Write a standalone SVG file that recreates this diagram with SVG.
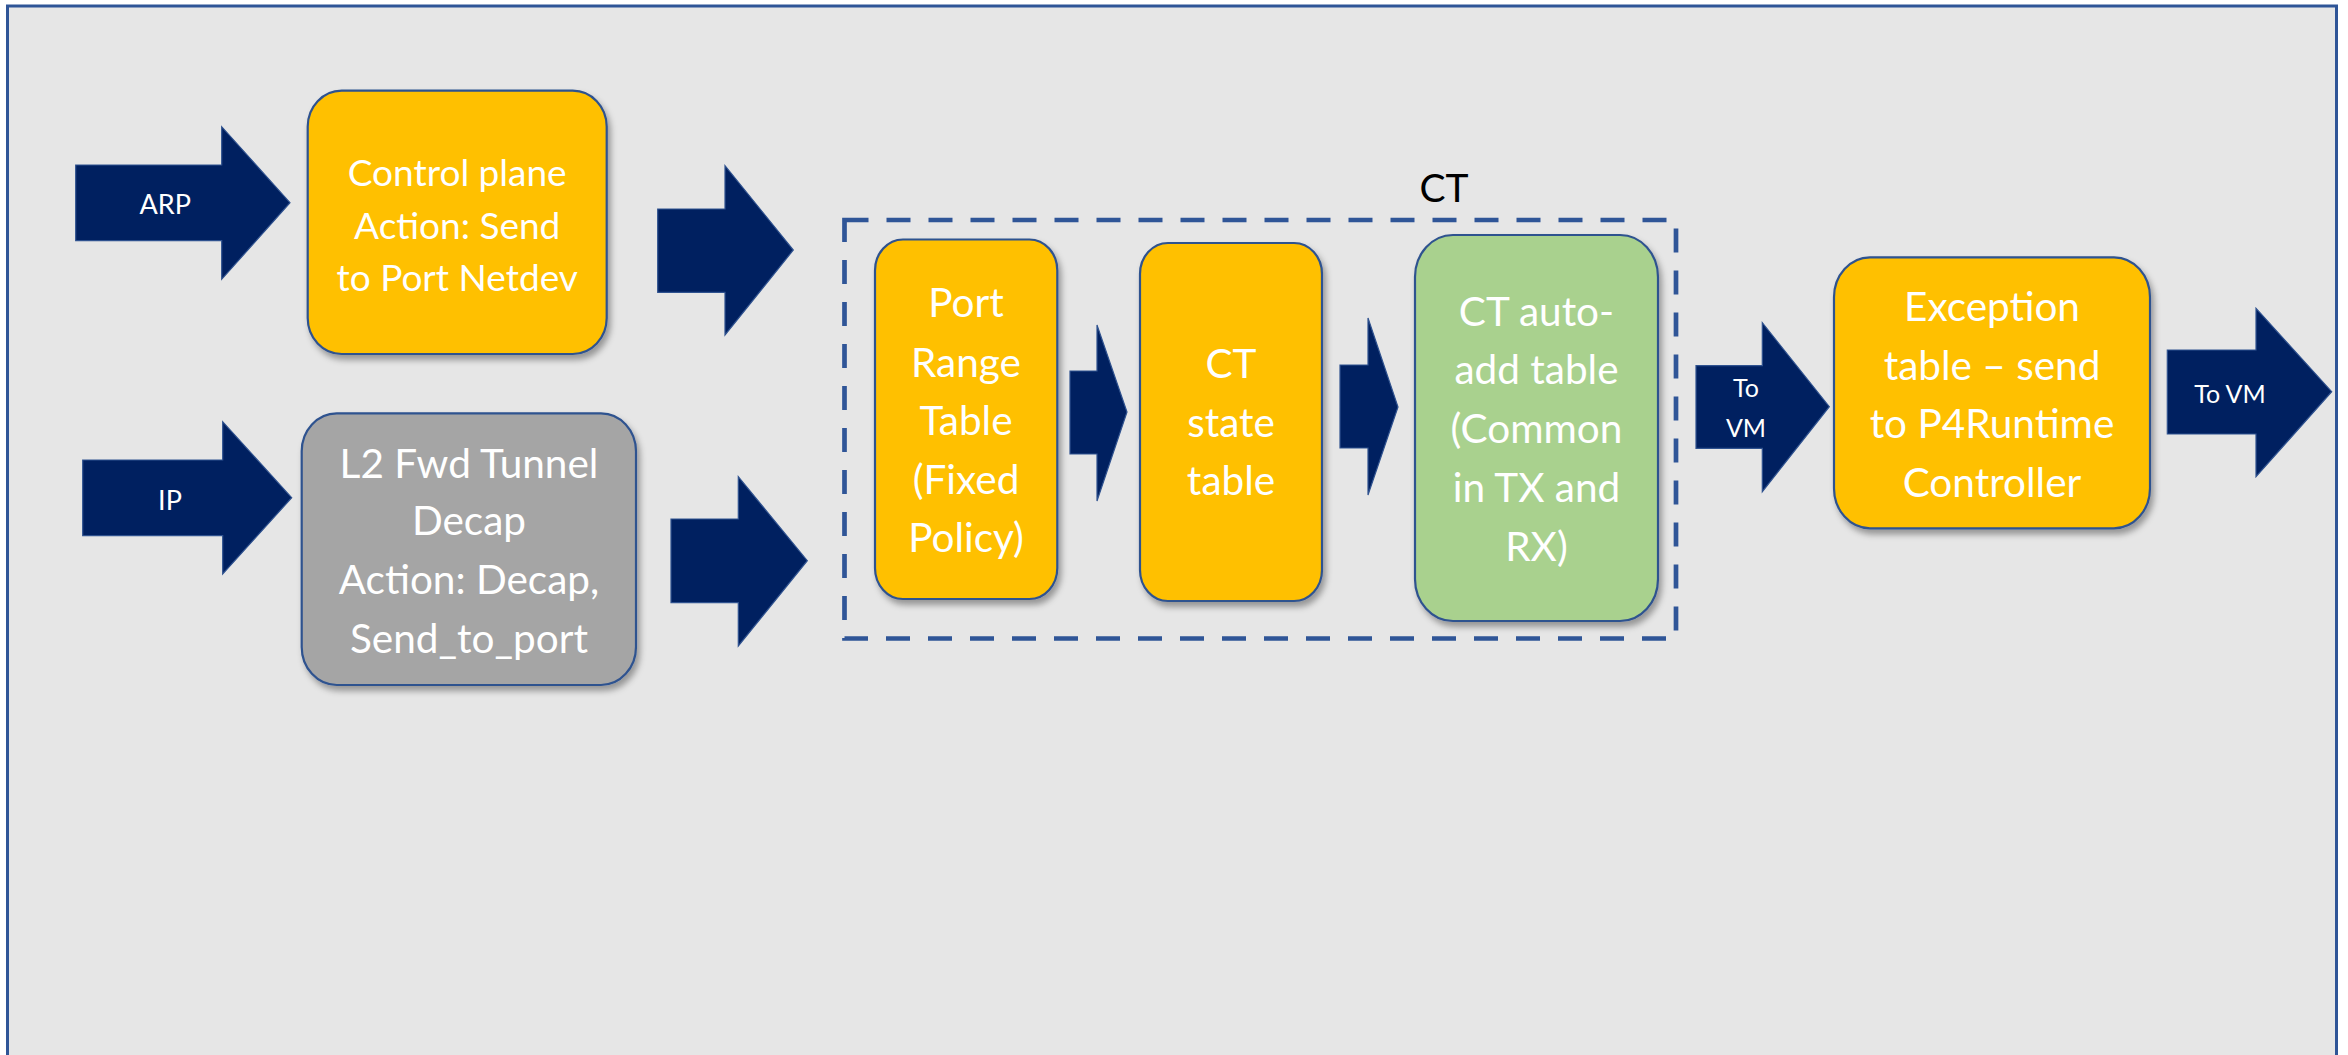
<svg xmlns="http://www.w3.org/2000/svg" width="2348" height="1055" viewBox="0 0 2348 1055">
<defs>
<filter id="sh" x="-10%" y="-10%" width="125%" height="125%">
<feDropShadow dx="3" dy="5" stdDeviation="3" flood-color="#000" flood-opacity="0.35"/>
</filter>
</defs>
<style>
.box{stroke:#2F528F;stroke-width:2.2;filter:url(#sh)}
.or{fill:#FFC000}
.gr{fill:#A5A5A5}
.gn{fill:#A9D18E}
.t{font-family:Lato,"Open Sans",sans-serif;fill:#FFFFFF;text-anchor:middle}
.big{font-size:40.5px}
.mid{font-size:37px}
.arr{fill:#002060;stroke:#2F528F;stroke-width:1.2}
.al{font-family:Lato,"Open Sans",sans-serif;fill:#FFFFFF;text-anchor:middle;font-size:25px}
</style>
<rect x="0" y="0" width="2348" height="1055" fill="#FFFFFF"/>
<rect id="frame" x="7.5" y="6" width="2329" height="1060" fill="#E6E6E6" stroke="#2F5597" stroke-width="3"/>

<g id="ct-group">
<rect x="844.5" y="220" width="831.5" height="418.5" fill="none" stroke="#2F5597" stroke-width="4.7" stroke-dasharray="24 18"/>
<text x="1444" y="202" font-family="Lato,'Open Sans',sans-serif" font-size="39" fill="#000000" text-anchor="middle">CT</text>
</g>

<g id="control-plane">
<rect class="box or" x="307.7" y="90.7" width="299" height="263.3" rx="34" ry="36"/>
<text class="t mid"><tspan x="457.2" y="186">Control plane</tspan><tspan x="457.2" y="239">Action: Send</tspan><tspan x="457.2" y="291">to Port Netdev</tspan></text>
</g>

<g id="l2-fwd">
<rect class="box gr" x="301.7" y="413.3" width="334.3" height="271.7" rx="35" ry="38"/>
<text class="t big"><tspan x="469" y="477.7">L2 Fwd Tunnel</tspan><tspan x="469" y="535">Decap</tspan><tspan x="469" y="594">Action: Decap,</tspan><tspan x="469" y="653">Send_to_port</tspan></text>
</g>

<g id="port-range">
<rect class="box or" x="875" y="239.5" width="182.3" height="359.5" rx="28" ry="31"/>
<text class="t big"><tspan x="966" y="317">Port</tspan><tspan x="966" y="377">Range</tspan><tspan x="966" y="435">Table</tspan><tspan x="966" y="494">(Fixed</tspan><tspan x="966" y="552">Policy)</tspan></text>
</g>

<g id="ct-state">
<rect class="box or" x="1140" y="243" width="182" height="358" rx="28" ry="31"/>
<text class="t big"><tspan x="1231" y="378">CT</tspan><tspan x="1231" y="437">state</tspan><tspan x="1231" y="495">table</tspan></text>
</g>

<g id="ct-auto-add">
<rect class="box gn" x="1415" y="235" width="243" height="386" rx="38" ry="42"/>
<text class="t big"><tspan x="1536.5" y="326">CT auto-</tspan><tspan x="1536.5" y="384">add table</tspan><tspan x="1536.5" y="443">(Common</tspan><tspan x="1536.5" y="502">in TX and</tspan><tspan x="1536.5" y="561">RX)</tspan></text>
</g>

<g id="exception">
<rect class="box or" x="1834" y="257.3" width="316" height="271" rx="36" ry="40"/>
<text class="t big"><tspan x="1992" y="320.7">Exception</tspan><tspan x="1992" y="380">table – send</tspan><tspan x="1992" y="438.3">to P4Runtime</tspan><tspan x="1992" y="496.7">Controller</tspan></text>
</g>

<g id="connectors">
<path class="arr" d="M75.7,165 H221.7 V126.7 L290,202.7 L221.7,279.3 V240.7 H75.7 Z"/>
<text class="al" x="165.3" y="214" font-size="27" style="font-size:27px">ARP</text>
<path class="arr" d="M82.7,460 H222.7 V421.7 L291.7,497.7 L222.7,574 V535.7 H82.7 Z"/>
<text class="al" x="170" y="510" style="font-size:27px">IP</text>
<path class="arr" d="M657.7,209 H725 V165.7 L793.3,250 L725,335 V292.3 H657.7 Z"/>
<path class="arr" d="M671,519 H738.3 V476.7 L807.3,560.7 L738.3,646 V602.7 H671 Z"/>
<path class="arr" d="M1070,371 H1097 V325 L1127,412 L1097,501 V454 H1070 Z"/>
<path class="arr" d="M1340,365 H1368 V318 L1398,407 L1368,495 V448 H1340 Z"/>
<path class="arr" d="M1696,365.7 H1762.3 V322.7 L1829.3,406.7 L1762.3,491.7 V448.3 H1696 Z"/>
<text class="al"><tspan x="1746" y="397.3">To</tspan><tspan x="1746" y="437.3">VM</tspan></text>
<path class="arr" d="M2167.3,350 H2256 V308.3 L2331.7,391.7 L2256,476.7 V434 H2167.3 Z"/>
<text class="al" x="2230" y="402.7">To VM</text>
</g>
</svg>
